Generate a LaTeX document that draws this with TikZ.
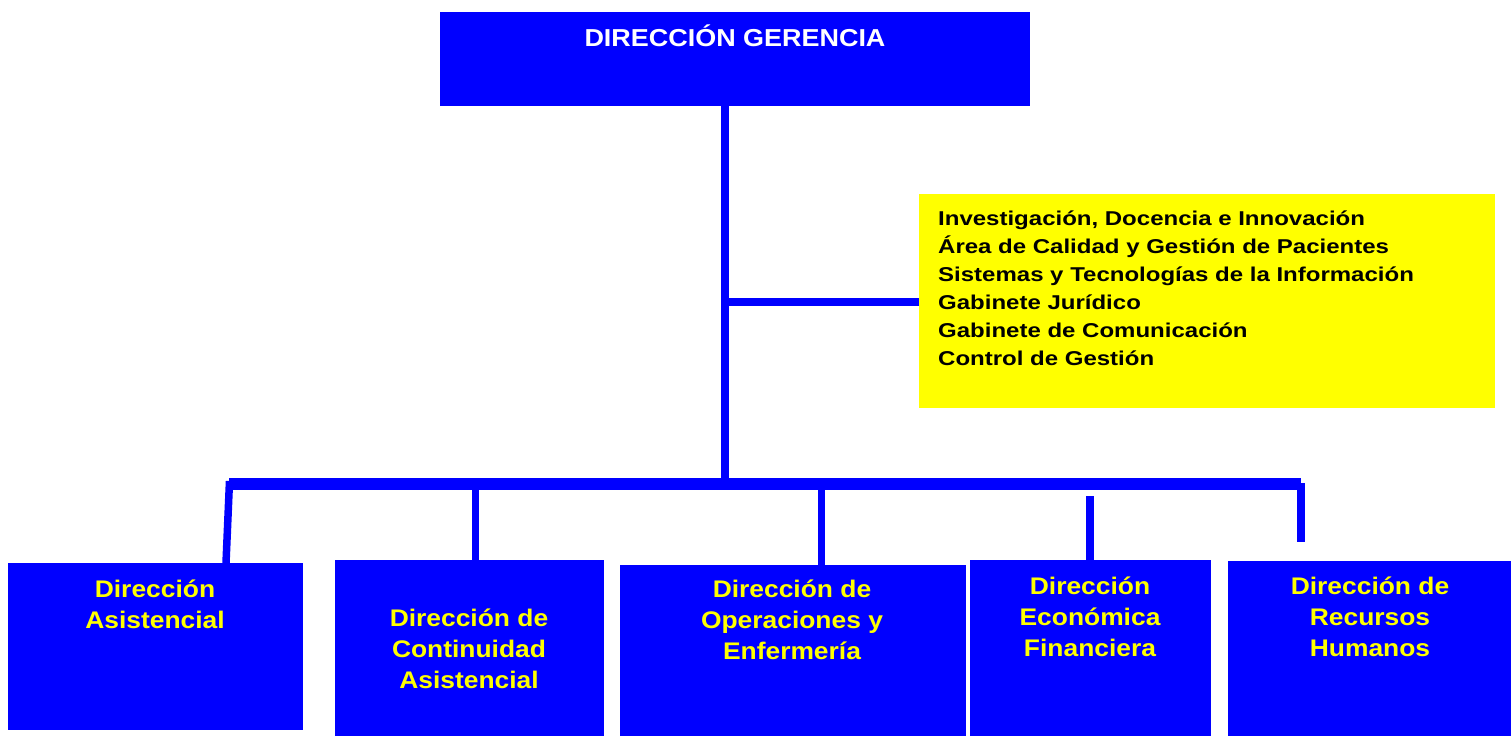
\documentclass[tikz,border=0pt]{standalone}
\usepackage{fontspec}
\setmainfont{Liberation Sans}[FakeStretch=1.1]
\newfontfamily\stafffont{Liberation Sans}[FakeStretch=1.2]
\definecolor{orgblue}{RGB}{0,0,255}
\definecolor{orgyellow}{RGB}{255,255,0}
\begin{document}
\begin{tikzpicture}[x=1pt,y=-1pt,
  box/.style={fill=orgblue, draw=none, inner sep=0, anchor=north west},
  staffbox/.style={fill=orgyellow, draw=none, inner sep=0, anchor=north west},
  lbl/.style={text=orgyellow, font=\bfseries\fontsize{24}{30.7}\selectfont, align=center, anchor=base, inner sep=0},
  link/.style={draw=orgblue, line width=7.5pt}]
\useasboundingbox (0,0) rectangle (1511,736);

% boxes
\node[box, minimum width=590pt, minimum height=94pt] (ger) at (440,12) {};
\node[staffbox, minimum width=576pt, minimum height=214pt] (staff) at (919,194) {};
\node[box, minimum width=295pt, minimum height=167pt] (b1) at (8,563) {};
\node[box, minimum width=269pt, minimum height=176pt] (b2) at (335,560) {};
\node[box, minimum width=346pt, minimum height=171pt] (b3) at (620,565) {};
\node[box, minimum width=241pt, minimum height=176pt] (b4) at (970,560) {};
\node[box, minimum width=283pt, minimum height=175pt] (b5) at (1228,561) {};

% connectors
\coordinate (jS) at (725,302);
\coordinate (jB) at (725,484);
\draw[link, line width=8pt] (ger.south -| jS) -- (jB);
\draw[link, line width=8pt] (jS) -- (staff.west |- jS);
\coordinate (barL) at (229,484);
\coordinate (barR) at (1301,484);
\draw[link, line width=12pt] (barL) -- (barR);
\coordinate (v1) at (229.5,481);
\coordinate (v1b) at (226,563);
\draw[link] (v1) -- (v1b);
\coordinate (v2) at (475.5,484);
\draw[link] (v2) -- (v2 |- b2.north);
\coordinate (v3) at (821.5,484);
\draw[link] (v3) -- (v3 |- b3.north);
\coordinate (v4) at (1090,496);
\draw[link, line width=8pt] (v4) -- (v4 |- b4.north);
\coordinate (v5a) at (1301,483);
\coordinate (v5b) at (1301,542);
\draw[link, line width=8pt] (v5a) -- (v5b);

% texts (base anchor = last line's baseline)
\node[font=\bfseries\fontsize{24.5}{30}\selectfont, text=white, anchor=base, inner sep=0] (tg) at (735,46) {DIRECCIÓN GERENCIA};
\node[anchor=base west, align=left, font=\stafffont\bfseries\fontsize{20}{28}\selectfont, inner sep=0] (ts) at (938,365)
  {Investigación, Docencia e Innovación\\Área de Calidad y Gestión de Pacientes\\Sistemas y Tecnologías de la Información\\Gabinete Jurídico\\Gabinete de Comunicación\\Control de Gestión};
\node[lbl] (t1) at (155,628) {Dirección\\Asistencial};
\node[lbl] (t2) at (469,688) {Dirección de\\Continuidad\\Asistencial};
\node[lbl] (t3) at (792,659) {Dirección de\\Operaciones y\\Enfermería};
\node[lbl] (t4) at (1090,656) {Dirección\\Económica\\Financiera};
\node[lbl] (t5) at (1370,656) {Dirección de\\Recursos\\Humanos};
\end{tikzpicture}
\end{document}
